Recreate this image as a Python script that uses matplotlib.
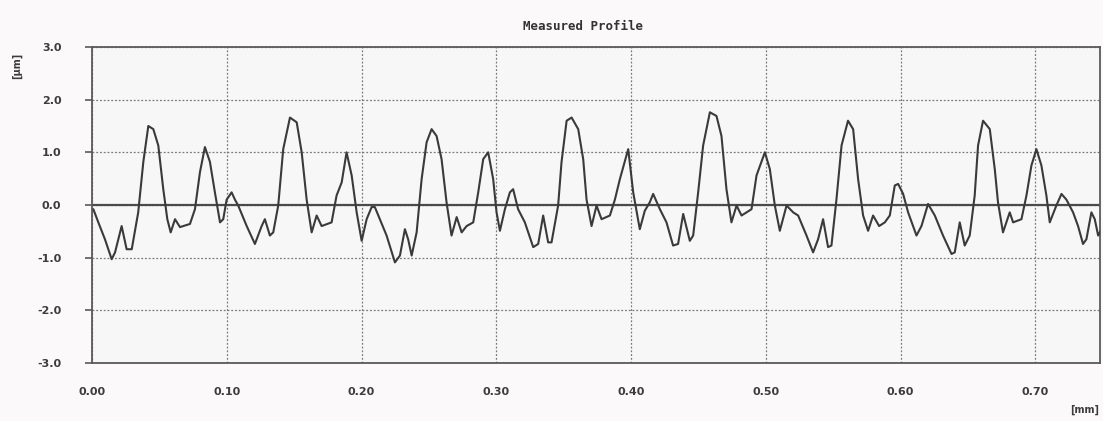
import matplotlib
matplotlib.use('Agg')
import matplotlib.pyplot as plt
import numpy as np

# Profile (x in mm, height in um)
xMM = [0.0010, 0.0047, 0.0096, 0.0146, 0.0171, 0.0220, 0.0257, 0.0295, 0.0343, 0.0381,
       0.0418, 0.0455, 0.0492, 0.0529, 0.0559, 0.0584, 0.0616, 0.0653, 0.0727, 0.0764,
       0.0801, 0.0838, 0.0875, 0.0912, 0.0950, 0.0974, 0.0999, 0.1036, 0.1061, 0.1085,
       0.1148, 0.1209, 0.1259, 0.1283, 0.1320, 0.1345, 0.1382, 0.1419, 0.1469, 0.1519,
       0.1556, 0.1593, 0.1630, 0.1667, 0.1704, 0.1778, 0.1815, 0.1853, 0.1889, 0.1927,
       0.1964, 0.2001, 0.2038, 0.2075, 0.2099, 0.2136, 0.2186, 0.2248, 0.2285, 0.2322,
       0.2346, 0.2372, 0.2409, 0.2446, 0.2483, 0.2520, 0.2557, 0.2594, 0.2631, 0.2668,
       0.2706, 0.2743, 0.2780, 0.2829, 0.2866, 0.2903, 0.2940, 0.2977, 0.3002, 0.3027,
       0.3064, 0.3101, 0.3125, 0.3162, 0.3212, 0.3274, 0.3311, 0.3348, 0.3385, 0.3410,
       0.3459, 0.3484, 0.3522, 0.3559, 0.3608, 0.3645, 0.3670, 0.3707, 0.3744, 0.3781,
       0.3843, 0.3880, 0.3917, 0.3979, 0.4016, 0.4065, 0.4102, 0.4139, 0.4164, 0.4214,
       0.4263, 0.4312, 0.4349, 0.4387, 0.4436, 0.4461, 0.4498, 0.4535, 0.4585, 0.4634,
       0.4671, 0.4708, 0.4745, 0.4783, 0.4820, 0.4857, 0.4894, 0.4931, 0.4993, 0.5030,
       0.5067, 0.5104, 0.5154, 0.5203, 0.5240, 0.5302, 0.5351, 0.5388, 0.5425, 0.5462,
       0.5487, 0.5524, 0.5562, 0.5610, 0.5648, 0.5685, 0.5722, 0.5759, 0.5796, 0.5841,
       0.5883, 0.5920, 0.5957, 0.5982, 0.6019, 0.6056, 0.6118, 0.6155, 0.6204, 0.6254,
       0.6315, 0.6378, 0.6402, 0.6439, 0.6476, 0.6513, 0.6550, 0.6575, 0.6612, 0.6662,
       0.6699, 0.6723, 0.6760, 0.6810, 0.6835, 0.6897, 0.6934, 0.6971, 0.7008, 0.7045,
       0.7082, 0.7107, 0.7156, 0.7194, 0.7231, 0.7280, 0.7317, 0.7354, 0.7379, 0.7416,
       0.7441, 0.7466, 0.7491]
heightUM = [-0.08, -0.33, -0.65, -1.03, -0.90, -0.40, -0.84, -0.84, -0.14, 0.82,
            1.50, 1.44, 1.13, 0.30, -0.27, -0.52, -0.27, -0.42, -0.36, -0.08,
            0.62, 1.10, 0.82, 0.24, -0.33, -0.27, 0.10, 0.24, 0.10, -0.01,
            -0.40, -0.74, -0.40, -0.27, -0.58, -0.52, -0.01, 1.06, 1.66, 1.57,
            1.00, 0.10, -0.52, -0.20, -0.40, -0.33, 0.18, 0.43, 1.00, 0.56,
            -0.14, -0.68, -0.27, -0.04, -0.04, -0.27, -0.58, -1.09, -0.96, -0.46,
            -0.65, -0.96, -0.52, 0.49, 1.19, 1.44, 1.31, 0.87, 0.05, -0.58,
            -0.23, -0.52, -0.40, -0.33, 0.24, 0.87, 1.00, 0.49, -0.14, -0.49,
            -0.08, 0.24, 0.30, -0.08, -0.33, -0.80, -0.74, -0.20, -0.71, -0.71,
            -0.01, 0.81, 1.60, 1.66, 1.44, 0.87, 0.10, -0.40, -0.01, -0.27,
            -0.20, 0.10, 0.49, 1.06, 0.24, -0.46, -0.11, 0.05, 0.21, -0.08,
            -0.33, -0.77, -0.74, -0.17, -0.68, -0.58, 0.24, 1.13, 1.76, 1.69,
            1.31, 0.30, -0.33, -0.01, -0.20, -0.14, -0.08, 0.56, 1.00, 0.68,
            -0.01, -0.49, -0.01, -0.14, -0.20, -0.58, -0.90, -0.65, -0.27, -0.80,
            -0.77, 0.10, 1.13, 1.60, 1.44, 0.49, -0.20, -0.49, -0.20, -0.40,
            -0.33, -0.20, 0.37, 0.40, 0.21, -0.14, -0.58, -0.40, 0.02, -0.20,
            -0.58, -0.93, -0.90, -0.33, -0.77, -0.58, 0.18, 1.13, 1.60, 1.44,
            0.68, 0.05, -0.52, -0.14, -0.33, -0.27, 0.18, 0.75, 1.06, 0.75,
            0.18, -0.33, -0.01, 0.21, 0.10, -0.14, -0.40, -0.74, -0.65, -0.14,
            -0.27, -0.58, -0.46]

xTicks = [0.00, 0.10, 0.20, 0.30, 0.40, 0.50, 0.60, 0.70]
yTicks = [-3.0, -2.0, -1.0, 0.0, 1.0, 2.0, 3.0]

lineGray = '#3a3a3a'
textGray = '#3c3c3c'

fig = plt.figure(figsize=(11.03, 4.21), dpi=100)
fig.patch.set_facecolor('#fbf9fa')
ax = fig.add_axes([0.0834, 0.1378, 0.9139, 0.7506])
ax.set_facecolor('#f7f7f7')

# profile
ax.plot(xMM, heightUM, color=lineGray, lw=1.5, zorder=3,
        solid_joinstyle='round', solid_capstyle='round')
ax.axhline(0, color='#4a4a4a', lw=1.6, zorder=2)

ax.set_xlim(0, 0.748)
ax.set_ylim(-3, 3)
ax.set_xticks(xTicks)
ax.set_yticks(yTicks)
ax.set_xticklabels(['%.2f' % t for t in xTicks])
ax.set_yticklabels(['%.1f' % t for t in yTicks])
ax.grid(True, color='#7a7a7a', lw=0.9, ls=(0, (1.5, 1.5)), zorder=1)

for s in ax.spines.values():
    s.set_color('#5a5a5a')
    s.set_linewidth(1.3)

ax.tick_params(axis='y', direction='out', length=5, width=1.2, color='#5a5a5a',
               labelsize=8, labelcolor=textGray, pad=17)
ax.tick_params(axis='x', direction='out', length=0, labelsize=8,
               labelcolor=textGray, pad=17)
for lab in ax.get_xticklabels() + ax.get_yticklabels():
    lab.set_fontweight('bold')

fig.text(583/1103, 1 - 26/421, 'Measured Profile', ha='center', va='center',
         fontsize=9, family='DejaVu Sans Mono', weight='bold', color='#333333')
fig.text(17/1103, 1 - 66/421, '[\u00b5m]', ha='center', va='center', rotation=90,
         fontsize=7, weight='bold', color=textGray)
fig.text(1085/1103, 1 - 410/421, '[mm]', ha='center', va='center',
         fontsize=7, weight='bold', color=textGray)

fig.savefig('out.png', dpi=100, facecolor=fig.get_facecolor())
